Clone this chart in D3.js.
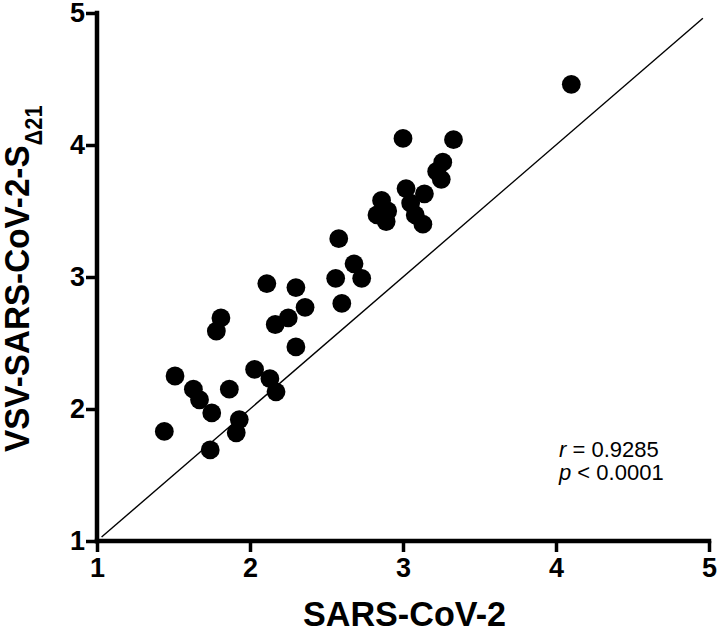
<!DOCTYPE html>
<html>
<head>
<meta charset="utf-8">
<script src="https://cdn.jsdelivr.net/npm/d3@7"></script>
<style>
body { margin: 0; background: #fff; }
text { font-family: "Liberation Sans", Arial, sans-serif; }
</style>
</head>
<body>
<svg id="chart" width="720" height="631"></svg>
<script>
// data
var sarsCov2 = [1.44, 1.51, 1.63, 1.67, 1.75, 1.74, 1.78, 1.81, 1.865, 1.91,
  1.93, 2.03, 2.11, 2.13, 2.17, 2.165, 2.25, 2.30, 2.30, 2.36,
  2.56, 2.58, 2.60, 2.68, 2.73, 2.83, 2.86, 2.89, 2.90, 3.00,
  3.02, 3.05, 3.08, 3.13, 3.14, 3.22, 3.25, 3.26, 3.33, 4.10];
var vsvSars = [1.83, 2.25, 2.15, 2.07, 1.97, 1.69, 2.59, 2.69, 2.15, 1.82,
  1.92, 2.30, 2.95, 2.23, 2.13, 2.64, 2.69, 2.92, 2.47, 2.77,
  2.99, 3.29, 2.80, 3.10, 2.99, 3.47, 3.58, 3.42, 3.50, 4.05,
  3.67, 3.56, 3.47, 3.40, 3.63, 3.80, 3.74, 3.87, 4.04, 4.46];
var tickValues = [1, 2, 3, 4, 5];
var identityLine = [1.03, 4.96];
var stats = ["r", " = 0.9285", "p", " < 0.0001"];

var svg = d3.select("#chart");

var x = d3.scaleLinear().domain([1, 5]).range([97, 709]);
var y = d3.scaleLinear().domain([1, 5]).range([541, 13]);

// y = x line
svg.append("line")
  .attr("x1", x(identityLine[0])).attr("y1", y(identityLine[0]))
  .attr("x2", x(identityLine[1])).attr("y2", y(identityLine[1]))
  .attr("stroke", "#000")
  .attr("stroke-width", 1.4);

// points
svg.append("g")
  .selectAll("circle")
  .data(d3.zip(sarsCov2, vsvSars))
  .enter().append("circle")
  .attr("cx", function(d) { return x(d[0]); })
  .attr("cy", function(d) { return y(d[1]); })
  .attr("r", 9.4)
  .attr("fill", "#000");

// axes
var xAxis = svg.append("g")
  .attr("transform", "translate(0,541)")
  .call(d3.axisBottom(x).tickValues(tickValues).tickSize(11).tickPadding(6).tickFormat(d3.format("d")));
var yAxis = svg.append("g")
  .attr("transform", "translate(97,0)")
  .call(d3.axisLeft(y).tickValues(tickValues).tickSize(11).tickPadding(1).tickFormat(d3.format("d")));

[xAxis, yAxis].forEach(function(a) {
  a.select(".domain")
    .attr("stroke", "#000")
    .attr("stroke-width", 4.5)
    .attr("stroke-linecap", "square");
  a.selectAll(".tick line").attr("stroke", "#000").attr("stroke-width", 3.5);
  a.selectAll(".tick text")
    .attr("fill", "#000")
    .style("font-size", "27px")
    .style("font-weight", "bold");
});
// the domain path has outer ticks; drop them
xAxis.select(".domain").attr("d", "M" + x(1) + ",0H" + x(5));
yAxis.select(".domain").attr("d", "M0," + y(1) + "V" + y(5));

// axis titles
svg.append("text")
  .attr("x", 303)
  .attr("y", 626)
  .attr("textLength", 203)
  .attr("lengthAdjust", "spacingAndGlyphs")
  .style("font-size", "35px")
  .style("font-weight", "bold")
  .text("SARS-CoV-2");

var yTitle = svg.append("text")
  .attr("transform", "translate(29,452) rotate(-90) scale(0.95,1)")
  .style("font-size", "35px")
  .style("font-weight", "bold");
yTitle.append("tspan").text("VSV-SARS-CoV-2-S");
yTitle.append("tspan")
  .attr("dy", 13)
  .style("font-size", "23px")
  .text("Δ21");

// correlation text
var st = svg.append("g").style("font-size", "22px");
var t1 = st.append("text").attr("x", 559).attr("y", 457);
t1.append("tspan").style("font-style", "italic").text(stats[0]);
t1.append("tspan").text(stats[1]);
var t2 = st.append("text").attr("x", 559).attr("y", 480);
t2.append("tspan").style("font-style", "italic").text(stats[2]);
t2.append("tspan").text(stats[3]);
</script>
</body>
</html>
